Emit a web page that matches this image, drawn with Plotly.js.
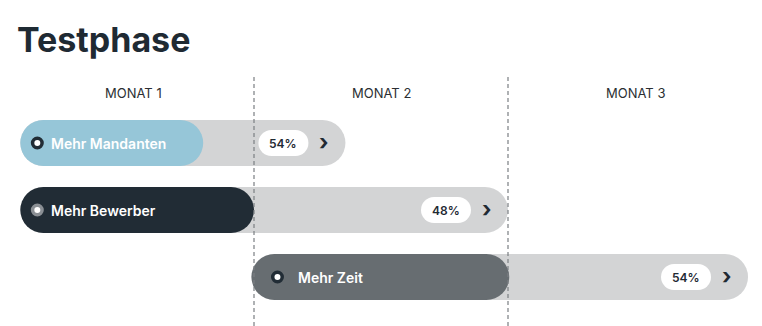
<!DOCTYPE html>
<html><head><meta charset="utf-8">
<script src="https://cdn.plot.ly/plotly-3.0.1.min.js"></script>
<style>html,body{margin:0;padding:0;background:#fff;}#chart{width:762px;height:326px;}</style>
</head><body><div id="chart"></div>
<script>
// ---- data ----
const chartTitle = 'Testphase';
const months = ['MONAT 1', 'MONAT 2', 'MONAT 3'];
const labels = ['Mehr Mandanten', 'Mehr Bewerber', 'Mehr Zeit'];
const startMonth = [0.08, 0.08, 0.99];
const endMonth = [1.36, 2.0, 2.945];
const progressMonth = [0.80, 1.0, 2.005];
const percent = [54, 48, 54];

// ---- styling ----
const W = 762, H = 326;
const fillColors = ['#96c6d8', '#212c35', '#676d71'];
const ringColors = ['#212c35', '#8a8f94', '#212c35'];
const trackColor = '#d3d4d5';
const dark = '#1f2a33';
const pxPerMonth = W / 3;
const px = p => p / pxPerMonth;
const rowPx = 67, firstRowPx = 143;
const yTop = -firstRowPx / rowPx, yBottom = (H - firstRowPx) / rowPx;
const rows = labels.map((_, i) => i);
const barW = 46 / rowPx, pillW = 26 / rowPx;
const iconInset = [0, 0, 9];
const textInset = [0, 0, 16];

function pill(a, b, width, color) {
  return {
    type: 'bar', orientation: 'h', y: rows, base: a, x: b.map((v, i) => v - a[i]), width: width,
    marker: {color: color, cornerradius: '50%', line: {width: 0}},
    hoverinfo: 'skip', showlegend: false
  };
}

const pillCenter = endMonth.map(v => v - px(62));
const traces = [
  pill(startMonth, endMonth, barW, trackColor),
  pill(startMonth, progressMonth, barW, fillColors),
  pill(pillCenter.map(c => c - px(25)), pillCenter.map(c => c + px(25)), pillW, '#ffffff'),
  {
    type: 'scatter', mode: 'markers', y: rows,
    x: startMonth.map((v, i) => v + px(17 + iconInset[i])),
    marker: {size: 9.5, color: '#ffffff', line: {width: 3.5, color: ringColors}},
    hoverinfo: 'skip', showlegend: false
  }
];

const annotations = [];
labels.forEach((t, i) => {
  annotations.push({x: startMonth[i] + px(29 + textInset[i]), y: i, xref: 'x', yref: 'y', text: t, showarrow: false,
    xanchor: 'left', yanchor: 'middle', font: {family: 'Inter', size: 14, weight: 600, color: '#ffffff'}});
  annotations.push({x: pillCenter[i], y: i, xref: 'x', yref: 'y', text: percent[i] + '%', showarrow: false,
    xanchor: 'center', yanchor: 'middle', font: {family: 'Inter', size: 12, weight: 600, color: dark}});
  annotations.push({x: endMonth[i] - px(21), y: i, xref: 'x', yref: 'y', text: '›', showarrow: false,
    xanchor: 'center', yanchor: 'middle', yshift: 1, font: {family: 'Inter', size: 22, weight: 700, color: dark}});
});
months.forEach((m, i) => {
  annotations.push({x: i + 0.5, y: yTop + 93 / rowPx, xref: 'x', yref: 'y', text: m, showarrow: false,
    xanchor: 'center', yanchor: 'middle', xshift: i === 0 ? 6 : 0,
    font: {family: 'Inter', size: 13, color: '#2b2f33'}});
});

const shapes = [1, 2].map(v => ({
  type: 'line', xref: 'x', yref: 'paper', x0: v, x1: v, y0: 0, y1: 1 - 76 / H,
  line: {color: '#7b7f83', width: 1.2, dash: '4px,3px'}, layer: 'above'
}));

const layout = {
  width: W, height: H,
  margin: {l: 0, r: 0, t: 0, b: 0, pad: 0},
  paper_bgcolor: '#ffffff', plot_bgcolor: '#ffffff',
  title: {text: chartTitle, xref: 'container', yref: 'container', x: 17 / W, xanchor: 'left',
    y: 1 - 40 / H, yanchor: 'middle', font: {family: 'Inter', size: 34, weight: 700, color: dark}},
  barmode: 'overlay',
  xaxis: {range: [0, 3], visible: false, fixedrange: true},
  yaxis: {range: [yBottom, yTop], visible: false, fixedrange: true},
  showlegend: false,
  annotations: annotations,
  shapes: shapes
};

Plotly.newPlot('chart', traces, layout, {displayModeBar: false, staticPlot: true});
</script>
</body></html>
